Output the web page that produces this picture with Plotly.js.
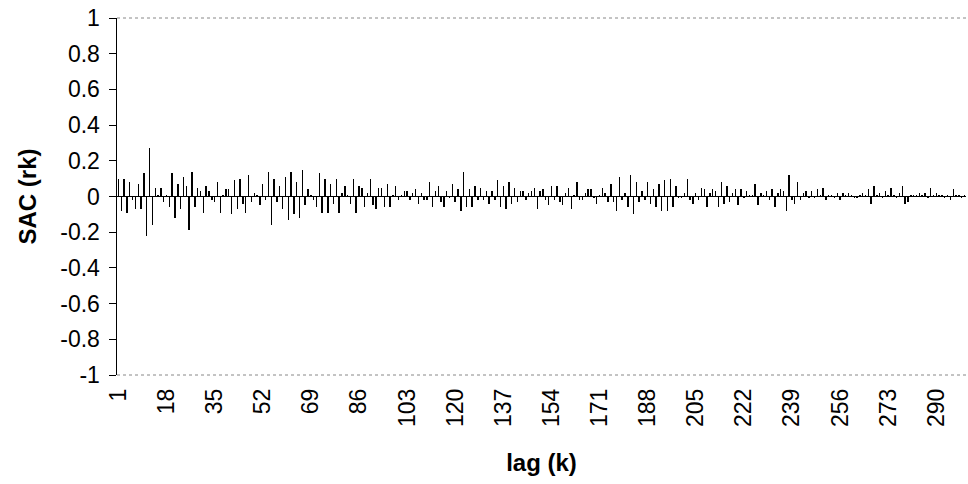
<!DOCTYPE html>
<html>
<head>
<meta charset="utf-8">
<script src="https://cdn.plot.ly/plotly-3.0.1.min.js"></script>
<style>html,body{margin:0;padding:0;background:#fff;}#chart{width:968px;height:484px;}</style>
</head>
<body>
<div id="chart"></div>
<script>
// Sample autocorrelation r_k for lags 1..300
const sacValues = [
  0.10,-0.08,0.10,-0.09,0.08,-0.02,-0.07,0.07,-0.07,0.13,
  -0.22,0.27,-0.16,0.05,0.01,0.05,-0.03,0.01,-0.06,0.13,
  -0.12,0.07,-0.07,0.11,0.06,-0.19,0.14,-0.06,0.05,0.03,
  -0.09,0.06,0.03,-0.02,-0.03,0.08,-0.09,0.01,0.04,0.04,
  -0.10,0.09,-0.07,0.10,-0.04,-0.09,0.12,-0.03,0.02,0.01,
  -0.05,0.07,-0.02,0.14,-0.16,0.10,-0.03,0.06,-0.07,0.11,
  -0.13,0.14,-0.10,0.08,-0.12,0.15,-0.05,0.04,0.01,-0.02,
  -0.06,0.13,-0.09,0.10,-0.09,0.07,-0.04,0.10,-0.09,0.02,
  0.06,0.01,-0.04,0.10,-0.09,0.06,0.05,-0.06,0.02,0.10,
  -0.05,-0.07,0.05,0.05,-0.06,0.07,-0.06,0.01,0.06,-0.02,
  0.01,0.03,0.03,-0.02,0.02,0.04,-0.04,0.02,-0.02,-0.02,
  0.08,-0.06,0.03,0.06,-0.03,-0.06,0.03,-0.01,0.07,-0.03,
  0.04,-0.08,0.14,-0.06,0.04,-0.06,0.06,-0.02,0.05,-0.02,
  0.03,-0.04,0.03,-0.02,0.09,-0.06,0.06,-0.07,0.08,-0.04,
  0.05,-0.03,0.03,0.03,-0.02,0.02,0.03,0.05,-0.07,0.03,
  0.04,-0.02,-0.05,0.06,-0.02,0.06,-0.03,-0.05,0.02,0.05,
  -0.07,0.01,0.08,-0.02,-0.02,0.02,0.04,0.04,-0.01,-0.04,
  0.01,0.05,0.02,-0.03,0.07,-0.03,-0.08,0.11,-0.02,0.02,
  -0.06,0.12,-0.10,0.08,-0.03,0.03,-0.02,0.08,-0.04,0.04,
  -0.06,0.07,-0.08,0.09,-0.08,0.10,-0.06,0.06,-0.01,-0.01,
  0.02,0.10,-0.02,-0.04,0.02,-0.02,0.05,0.04,-0.06,0.02,
  0.04,0.03,-0.06,0.08,-0.04,0.06,-0.03,0.02,0.04,-0.05,
  0.04,-0.01,0.03,0.01,0.01,0.07,-0.05,0.02,0.01,0.03,
  -0.02,0.04,-0.06,0.02,0.04,0.03,-0.08,0.12,-0.02,-0.04,
  0.08,-0.02,0.02,0.03,-0.01,0.03,-0.01,0.04,0.01,0.05,
  -0.02,0.01,0.01,-0.01,0.02,-0.02,0.02,0.01,0.02,0.01,
  -0.01,-0.01,0.01,0.02,0.01,0.04,-0.04,0.06,0.01,0.02,
  -0.01,0.03,0.01,0.05,0.01,-0.01,0.02,0.06,-0.04,-0.03,
  0.01,0.01,0.01,0.02,0.01,0.02,-0.01,0.05,0.01,0.02,
  0.01,0.01,-0.01,0.01,-0.02,0.04,0.01,0.01,-0.01,0.01
];
const lags = sacValues.map((v, i) => i + 1);
const xTickVals = [1,18,35,52,69,86,103,120,137,154,171,188,205,222,239,256,273,290];
const yTickVals = [-1,-0.8,-0.6,-0.4,-0.2,0,0.2,0.4,0.6,0.8,1];
const yTickText = ["-1","-0.8","-0.6","-0.4","-0.2","0","0.2","0.4","0.6","0.8","1"];

const trace = {
  type: 'bar',
  x: lags,
  y: sacValues,
  width: 0.5,
  marker: {color: '#000', line: {width: 0}},
  hoverinfo: 'x+y'
};

const layout = {
  width: 968, height: 484,
  margin: {l: 117, r: 2, t: 18, b: 109},
  paper_bgcolor: '#fff', plot_bgcolor: '#fff',
  font: {family: 'Liberation Sans, Arial, sans-serif', size: 23, color: '#000'},
  showlegend: false,
  bargap: 0,
  xaxis: {
    range: [0.5, 300.5],
    tickvals: xTickVals,
    ticktext: xTickVals.map(String),
    tickangle: -90,
    ticks: '',
    ticklabelstandoff: 8,
    showgrid: false, zeroline: false, showline: false,
    automargin: false,
    title: {text: '<b>lag (k)</b>', font: {size: 24}, standoff: 28}
  },
  yaxis: {
    range: [-1, 1],
    tickvals: yTickVals,
    ticktext: yTickText,
    ticks: 'outside', ticklen: 7, tickcolor: '#000', tickwidth: 1,
    ticklabelstandoff: 4,
    showline: true, linecolor: '#000', linewidth: 1.5,
    showgrid: false,
    zeroline: true, zerolinecolor: '#000', zerolinewidth: 1.5,
    automargin: false,
    title: {text: '<b>SAC (rk)</b>', font: {size: 24}, standoff: 17}
  },
  shapes: [
    {type: 'line', xref: 'paper', yref: 'paper', x0: 0, x1: 1, y0: 1, y1: 1,
     line: {color: '#888', width: 1, dash: 'dot'}},
    {type: 'line', xref: 'paper', yref: 'paper', x0: 0, x1: 1, y0: 0, y1: 0,
     line: {color: '#888', width: 1, dash: 'dot'}}
  ]
};

Plotly.newPlot('chart', [trace], layout, {displayModeBar: false, staticPlot: true});
</script>
</body>
</html>
